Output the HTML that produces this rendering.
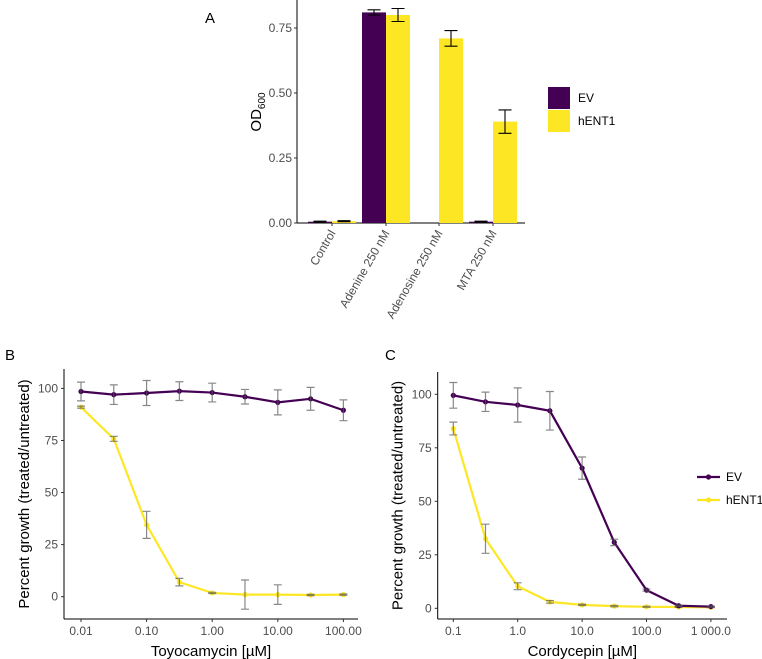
<!DOCTYPE html>
<html><head><meta charset="utf-8">
<style>
html,body{margin:0;padding:0;background:#fff;}
svg{display:block;font-family:"Liberation Sans",Arial,sans-serif;}
.tick{font-size:12px;fill:#4d4d4d;}
.ttl{font-size:15px;fill:#000;}
</style></head>
<body>
<svg id="fig" width="762" height="659" viewBox="0 0 762 659"></svg>
<script>
// ---- Panel A data ----
const barCategories = ["Control","Adenine 250 nM","Adenosine 250 nM","MTA 250 nM"];
const barEV = [0.005, 0.81, 0.0, 0.005];
const barEVerr = [0.002, 0.01, 0.0, 0.002];
const barHENT1 = [0.007, 0.80, 0.71, 0.39];
const barHENT1err = [0.002, 0.025, 0.03, 0.045];
const barTicks = [0, 0.25, 0.5, 0.75];
const barTickLabels = ["0.00","0.25","0.50","0.75"];
// ---- Panel B data ----
const toyoConc = [0.01,0.0316,0.1,0.316,1,3.16,10,31.6,100];
const toyoEV = [98.5,97,97.8,98.7,98,96,93.3,95,89.5];
const toyoEVerr = [4.5,4.7,6,4.5,4.5,3.5,6,5.5,5];
const toyoH = [91,75.8,34.5,7,1.8,1,1,0.8,1];
const toyoHerr = [0.5,1.2,6.5,1.8,0.3,7,4.7,0.3,0.3];
const toyoTicks = [0.01,0.1,1,10,100];
const toyoTickLabels = ["0.01","0.10","1.00","10.00","100.00"];
// ---- Panel C data ----
const cordConc = [0.1,0.316,1,3.16,10,31.6,100,316,1000];
const cordEV = [99.5,96.5,95,92.3,65.5,30.8,8.5,1.2,0.8];
const cordEVerr = [6,4.5,8,9,5.2,1.5,0.5,0.3,0.3];
const cordH = [84,32.5,10.3,3,1.6,1,0.7,0.6,0.5];
const cordHerr = [3,6.8,1.6,0.6,0.3,0.3,0.2,0.2,0.2];
const cordTicks = [0.1,1,10,100,1000];
const cordTickLabels = ["0.1","1.0","10.0","100.0","1 000.0"];
const pctTicks = [0,25,50,75,100];

const PURPLE="#440154", YELLOW="#FDE725";
const svg=document.getElementById('fig');
const NS="http://www.w3.org/2000/svg";
function mk(tag,attrs,parent,text){
  const e=document.createElementNS(NS,tag);
  for(const k in attrs)e.setAttribute(k,attrs[k]);
  if(text!==undefined)e.textContent=text;
  (parent||svg).appendChild(e);return e;
}
function grp(name){const g=mk('g',{});


return g;}

// ===== Panel A =====
(function(){
  const g=grp('panel-a-bar-chart');
  const x0=297, y0=223;
  const yS=v=>y0-v*260;
  const centers=[332,386,439,493];
  const bw=24;
  const t=mk('text',{x:205,y:23,class:'ttl'},g,'A');
  
  
  mk('line',{x1:x0,y1:0,x2:x0,y2:y0,stroke:'#000','stroke-width':1},g);
  mk('line',{x1:x0,y1:y0,x2:525,y2:y0,stroke:'#000','stroke-width':1},g);
  barTicks.forEach((v,i)=>{
    mk('line',{x1:x0-3,y1:yS(v),x2:x0,y2:yS(v),stroke:'#333'},g);
    const l=mk('text',{x:x0-5,y:yS(v)+4,class:'tick','text-anchor':'end'},g,barTickLabels[i]);
    
    
  });
  barCategories.forEach((c,i)=>{
    const cx=centers[i];
    mk('line',{x1:cx,y1:y0,x2:cx,y2:y0+3,stroke:'#333'},g);
    const l=mk('text',{x:cx+4,y:y0+10,class:'tick','text-anchor':'end',transform:`rotate(-60 ${cx+4} ${y0+10})`},g,c);
    
    
    [[barEV,barEVerr,PURPLE,-bw],[barHENT1,barHENT1err,YELLOW,0]].forEach(([vals,errs,col,off],s)=>{
      const v=vals[i];
      const r=mk('rect',{x:cx+off,y:yS(v),width:bw,height:y0-yS(v),fill:col},g);
      
      
      if(errs[i]>0){
        const bx=cx+off+bw/2,e=errs[i];
        mk('path',{d:`M${bx-6.5},${yS(v+e)}H${bx+6.5}M${bx},${yS(v+e)}V${yS(v-e)}M${bx-6.5},${yS(v-e)}H${bx+6.5}`,stroke:'#000','stroke-width':1.1,fill:'none'},g);
      }
    });
  });
  const yt=mk('text',{x:0,y:0,class:'ttl',transform:'translate(261,112) rotate(-90)','text-anchor':'middle'},g);
  
  
  mk('tspan',{},yt,'OD');
  mk('tspan',{'font-size':'10px',dy:'4'},yt,'600');
  [[PURPLE,'EV',87],[YELLOW,'hENT1',110]].forEach(([c,lab,y])=>{
    const e=grp('legend-entry');
    g.appendChild(e);
    mk('rect',{x:548,y:y,width:22,height:22,fill:c},e);
    mk('text',{x:578,y:y+15,'font-size':'12px',fill:'#000'},e,lab);
  });
})();

function lineChart(o){
  const g=grp(o.name);
  const xS=v=>o.xa+(Math.log10(v)-Math.log10(o.xmin))*o.dec;
  const yS=v=>o.y0-v*o.ppu;
  const t=mk('text',{x:o.lx,y:o.ly,class:'ttl'},g,o.label);
  
  
  mk('line',{x1:o.ax,y1:o.top,x2:o.ax,y2:o.bot,stroke:'#000'},g);
  mk('line',{x1:o.ax,y1:o.bot,x2:o.right,y2:o.bot,stroke:'#000'},g);
  pctTicks.forEach(v=>{
    mk('line',{x1:o.ax-3,y1:yS(v),x2:o.ax,y2:yS(v),stroke:'#333'},g);
    mk('text',{x:o.ax-6,y:yS(v)+4,class:'tick','text-anchor':'end'},g,String(v));
  });
  o.ticks.forEach((v,i)=>{
    mk('line',{x1:xS(v),y1:o.bot,x2:xS(v),y2:o.bot+3,stroke:'#333'},g);
    mk('text',{x:xS(v),y:o.bot+16,class:'tick','text-anchor':'middle'},g,o.tickLabels[i]);
  });
  const xt=mk('text',{x:(o.ax+o.right)/2,y:o.bot+37,class:'ttl','text-anchor':'middle'},g,o.xtitle);
  
  
  const yc=(o.top+o.bot)/2;
  const yt=mk('text',{x:0,y:0,class:'ttl','text-anchor':'middle',transform:`translate(${o.ax-35},${yc}) rotate(-90)`},g,'Percent growth (treated/untreated)');
  
  
  [[o.h,o.herr,YELLOW,'series-hent1'],[o.ev,o.everr,PURPLE,'series-ev']].forEach(([vals,errs,col,nm])=>{
    const s=grp(nm);g.appendChild(s);
    const d=vals.map((v,i)=>(i?'L':'M')+xS(o.x[i])+','+yS(v)).join('');
    mk('path',{d:d,stroke:col,'stroke-width':2.2,fill:'none'},s);
    vals.forEach((v,i)=>mk('circle',{cx:xS(o.x[i]),cy:yS(v),r:2.6,fill:col},s));
    vals.forEach((v,i)=>{
      const x=xS(o.x[i]),e=errs[i];
      mk('path',{d:`M${x-4},${yS(v+e)}H${x+4}M${x},${yS(v+e)}V${yS(v-e)}M${x-4},${yS(v-e)}H${x+4}`,stroke:'#555','stroke-opacity':0.7,'stroke-width':1.2,fill:'none'},s);
    });
  });
  return g;
}
lineChart({name:'panel-b-toyocamycin-chart',label:'B',lx:5,ly:360,ax:64,top:369,bot:619,right:358,
  xa:81,xmin:0.01,dec:65.6,y0:596.7,ppu:2.083,x:toyoConc,ev:toyoEV,everr:toyoEVerr,h:toyoH,herr:toyoHerr,
  ticks:toyoTicks,tickLabels:toyoTickLabels,xtitle:'Toyocamycin [µM]'});
const gc=lineChart({name:'panel-c-cordycepin-chart',label:'C',lx:385,ly:360,ax:437.7,top:372,bot:619,right:727,
  xa:453.3,xmin:0.1,dec:64.4,y0:608.3,ppu:2.14,x:cordConc,ev:cordEV,everr:cordEVerr,h:cordH,herr:cordHerr,
  ticks:cordTicks,tickLabels:cordTickLabels,xtitle:'Cordycepin [µM]'});
[[PURPLE,'EV',477],[YELLOW,'hENT1',500]].forEach(([c,lab,y])=>{
  const e=grp('legend-entry');gc.appendChild(e);
  mk('line',{x1:697,y1:y,x2:720,y2:y,stroke:c,'stroke-width':2.2},e);
  mk('circle',{cx:708.5,cy:y,r:2.6,fill:c},e);
  mk('text',{x:726,y:y+4,'font-size':'12px',fill:'#000'},e,lab);
});
</script>
</body></html>
